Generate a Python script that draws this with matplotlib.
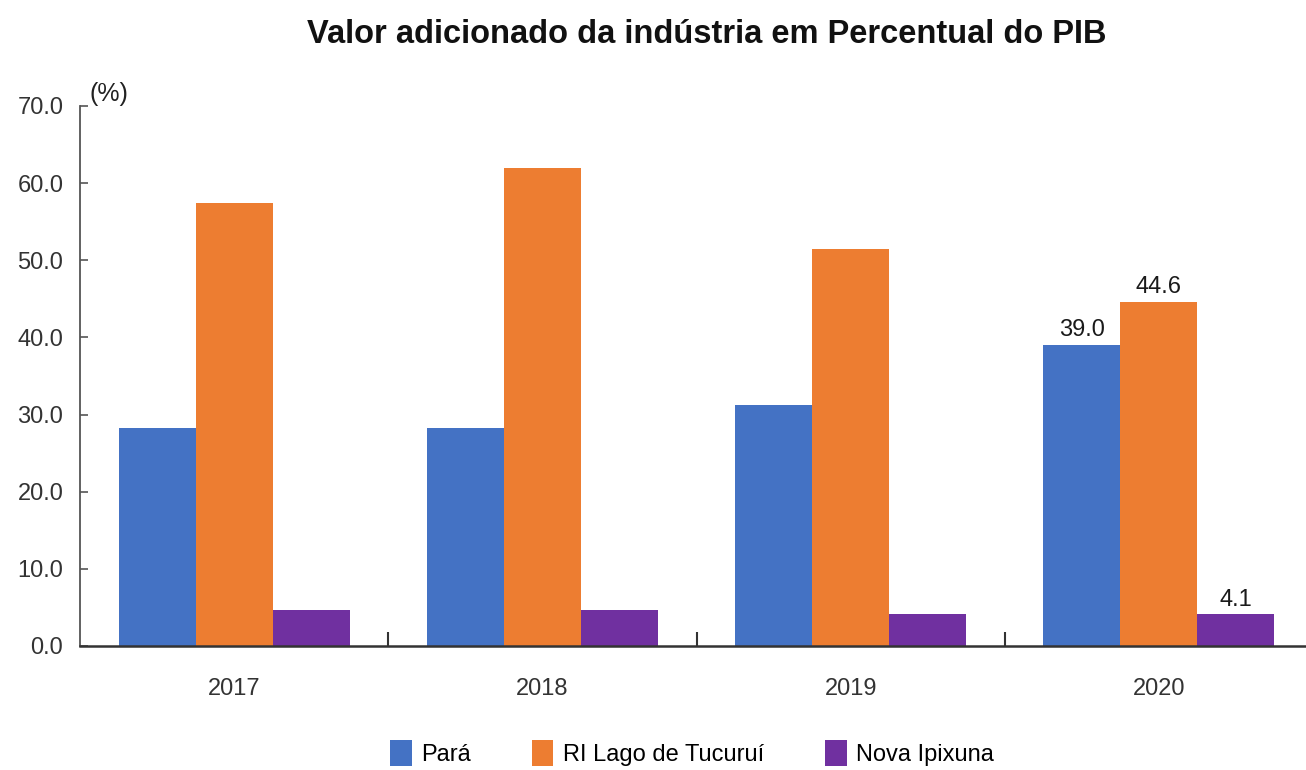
import matplotlib
matplotlib.use('Agg')
import matplotlib.pyplot as plt
import numpy as np

plt.rcParams['font.family'] = ['Liberation Sans', 'DejaVu Sans']

#data
anos = ['2017', '2018', '2019', '2020']
para = [28.2, 28.2, 31.2, 39.0]
tucurui = [57.4, 61.9, 51.4, 44.6]
ipixuna = [4.7, 4.7, 4.1, 4.1]
series_names = ['Pará', 'RI Lago de Tucuruí', 'Nova Ipixuna']
cores = ['#4472C4', '#ED7D31', '#7030A0']

fig = plt.figure(figsize=(13.06, 7.70), dpi=100)
#axes runs a little past the right edge, as in the reference
ax = fig.add_axes([80/1306, 124/770, 1233/1306, 540/770])

x = np.arange(len(anos))
w = 0.25
bars = []
for i, (vals, nome) in enumerate(zip([para, tucurui, ipixuna], series_names)):
    b = ax.bar(x + (i - 1) * w, vals, w, color=cores[i], label=nome, zorder=2)
    bars.append(b)

#only the last year gets value labels
for b in bars:
    r = b[-1]
    ax.text(r.get_x() + r.get_width() / 2, r.get_height() + 0.5, '%.1f' % r.get_height(),
            ha='center', va='bottom', fontsize=17, color='#1a1a1a')

ax.set_xlim(-0.5, 3.5)
ax.set_ylim(0, 70)
ax.set_yticks(np.arange(0, 71, 10))
ax.set_yticklabels(['%.1f' % v for v in np.arange(0, 71, 10)], fontsize=17, color='#333333')
ax.tick_params(axis='y', direction='in', length=6, width=1.2, color='#555555', pad=12)

ax.set_xticks(x)
ax.set_xticklabels(anos, fontsize=17, color='#333333')
ax.tick_params(axis='x', length=0, pad=23)
#separators between the year groups
ax.set_xticks(np.arange(0.5, 3.5, 1), minor=True)
ax.tick_params(axis='x', which='minor', direction='in', length=10, width=1.5, color='#333333')

for s in ['top', 'right']:
    ax.spines[s].set_visible(False)
ax.spines['left'].set_color('#555555')
ax.spines['left'].set_linewidth(1.3)
ax.spines['bottom'].set_color('#333333')
ax.spines['bottom'].set_linewidth(1.8)

ax.text(0.008, 1.0, '(%)', transform=ax.transAxes, fontsize=18, color='#222222',
        ha='left', va='bottom')

fig.suptitle('Valor adicionado da indústria em Percentual do PIB', x=0.541, y=0.955,
             va='center', fontsize=23.5, fontweight='bold', color='#111111')

fig.legend(loc='lower center', bbox_to_anchor=(0.53, -0.022), ncol=3, frameon=False,
           fontsize=17, handlelength=0.9, handleheight=1.3, handletextpad=0.4,
           columnspacing=2.6)

fig.savefig('out.png', dpi=100)
